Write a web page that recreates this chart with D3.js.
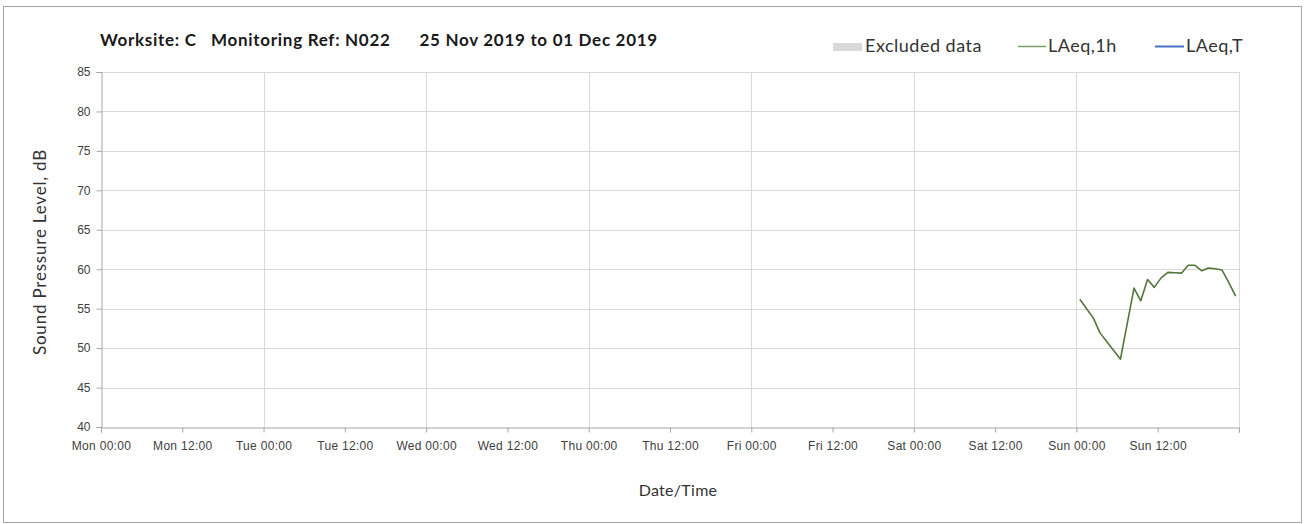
<!DOCTYPE html>
<html>
<head>
<meta charset="utf-8">
<script src="https://cdn.jsdelivr.net/npm/d3@7"></script>
<style>
  html, body { margin: 0; padding: 0; background: #fff; }
  svg { display: block; font-family: Lato, "Open Sans", sans-serif; }
</style>
</head>
<body>
<svg id="chart" width="1304" height="524"></svg>
<script>
// ---- data ----
const titleText = "Worksite: C   Monitoring Ref: N022      25 Nov 2019 to 01 Dec 2019";
const yTicks = [40, 45, 50, 55, 60, 65, 70, 75, 80, 85];
const xDomain = ["2019-11-25T00:00", "2019-12-02T00:00"];
const xTickLabels = ["Mon 00:00","Mon 12:00","Tue 00:00","Tue 12:00","Wed 00:00","Wed 12:00","Thu 00:00","Thu 12:00","Fri 00:00","Fri 12:00","Sat 00:00","Sat 12:00","Sun 00:00","Sun 12:00"];
const laeq1hTimes = [
  "2019-12-01T00:30","2019-12-01T01:30","2019-12-01T02:30","2019-12-01T03:30",
  "2019-12-01T04:30","2019-12-01T05:30","2019-12-01T06:30","2019-12-01T07:30",
  "2019-12-01T08:30","2019-12-01T09:30","2019-12-01T10:30","2019-12-01T11:30",
  "2019-12-01T12:30","2019-12-01T13:30","2019-12-01T14:30","2019-12-01T15:30",
  "2019-12-01T16:30","2019-12-01T17:30","2019-12-01T18:30","2019-12-01T19:30",
  "2019-12-01T20:30","2019-12-01T21:30","2019-12-01T22:30","2019-12-01T23:30"
];
const laeq1hValues = [56.2, 55.0, 53.8, 51.9, 50.8, 49.7, 48.6, 53.1,
                      57.6, 56.0, 58.7, 57.7, 58.9, 59.6, 59.55, 59.5,
                      60.5, 60.5, 59.8, 60.15, 60.05, 59.9, 58.3, 56.6];
const legendItems = ["Excluded data", "LAeq,1h", "LAeq,T"];

(function () {
// ---- layout ----
const svg = d3.select("#chart");
const pL = 101, pR = 1239, pT = 72, pB = 427;
const parse = d3.timeParse("%Y-%m-%dT%H:%M");

const x = d3.scaleTime().domain(xDomain.map(parse)).range([pL, pR]);
const y = d3.scaleLinear().domain([40, 85]).range([pB, pT]);

// outer frame
svg.append("rect").attr("x", 3.5).attr("y", 6.5).attr("width", 1298).attr("height", 516)
  .attr("fill", "none").attr("stroke", "#a6a6a6").attr("stroke-width", 1);

// horizontal grid
svg.append("g").selectAll("line").data(yTicks.filter(d => d > 40)).join("line")
  .attr("x1", pL).attr("x2", pR)
  .attr("y1", d => Math.round(y(d)) + 0.5).attr("y2", d => Math.round(y(d)) + 0.5)
  .attr("stroke", "#d9d9d9").attr("stroke-width", 1);

// vertical grid (each day)
const dayTicks = d3.timeDay.range(x.domain()[0], d3.timeDay.offset(x.domain()[1], 1));
svg.append("g").selectAll("line").data(dayTicks.slice(1)).join("line")
  .attr("x1", d => Math.round(x(d)) + 0.5).attr("x2", d => Math.round(x(d)) + 0.5)
  .attr("y1", pT).attr("y2", pB)
  .attr("stroke", "#d9d9d9").attr("stroke-width", 1);

// y axis
const yAxis = d3.axisLeft(y).tickValues(yTicks).tickSize(5).tickPadding(6).tickFormat(d3.format("d"));
const gy = svg.append("g").attr("transform", `translate(${pL + 0.5},0)`).call(yAxis);
gy.select(".domain").attr("stroke", "#a6a6a6");
gy.selectAll(".tick line").attr("stroke", "#a6a6a6");
gy.selectAll(".tick text").attr("fill", "#404040").style("font-size", "12px");

// x axis
const xTickDates = d3.timeHour.every(12).range(x.domain()[0], d3.timeHour.offset(x.domain()[1], 1));
const xAxis = d3.axisBottom(x).tickValues(xTickDates).tickSize(5).tickPadding(9)
  .tickFormat((d, i) => xTickLabels[i] || "");
const gx = svg.append("g").attr("transform", `translate(0,${pB + 0.5})`).call(xAxis);
gx.select(".domain").attr("stroke", "#a6a6a6");
gx.selectAll(".tick line").attr("stroke", "#a6a6a6");
gx.selectAll(".tick text").attr("fill", "#404040").style("font-size", "12px").style("letter-spacing", "0.3px");

// data line
const data = laeq1hTimes.map((t, i) => ({ t: parse(t), v: laeq1hValues[i] }));
svg.append("path").datum(data)
  .attr("fill", "none").attr("stroke", "#52763a").attr("stroke-width", 1.6)
  .attr("stroke-linejoin", "round")
  .attr("d", d3.line().x(d => x(d.t)).y(d => y(d.v)));

// title
svg.append("text").attr("x", 100).attr("y", 46)
  .attr("fill", "#1a1a1a").style("font-size", "17px").style("font-weight", "bold")
  .style("letter-spacing", "0.7px").style("white-space", "pre")
  .text(titleText);

// legend
const lg = svg.append("g").style("font-size", "18px").style("letter-spacing", "0.5px").attr("fill", "#333");
lg.append("rect").attr("x", 833).attr("y", 43).attr("width", 29).attr("height", 8).attr("fill", "#d9d9d9");
lg.append("text").attr("x", 865).attr("y", 52).text(legendItems[0]);
lg.append("line").attr("x1", 1018).attr("x2", 1046).attr("y1", 46.5).attr("y2", 46.5)
  .attr("stroke", "#7a9a68").attr("stroke-width", 1.5);
lg.append("text").attr("x", 1048).attr("y", 52).text(legendItems[1]);
lg.append("line").attr("x1", 1155).attr("x2", 1184).attr("y1", 46.5).attr("y2", 46.5)
  .attr("stroke", "#4472c4").attr("stroke-width", 2);
lg.append("text").attr("x", 1186).attr("y", 52).text(legendItems[2]);

// axis titles
svg.append("text").attr("x", 678).attr("y", 496).attr("text-anchor", "middle")
  .attr("fill", "#333").style("font-size", "16px").style("letter-spacing", "0.3px").text("Date/Time");
svg.append("text").attr("transform", `translate(46,252) rotate(-90)`)
  .attr("text-anchor", "middle").attr("fill", "#333").style("font-size", "17px")
  .style("letter-spacing", "0.8px")
  .text("Sound Pressure Level, dB");
})();
</script>
</body>
</html>
